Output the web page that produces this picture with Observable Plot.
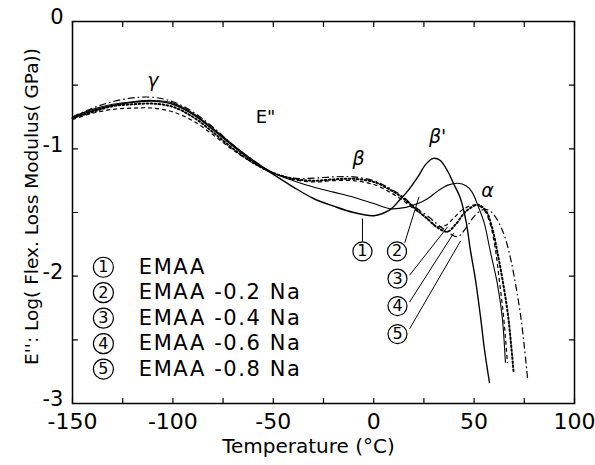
<!DOCTYPE html>
<html><head><meta charset="utf-8">
<script src="https://cdn.jsdelivr.net/npm/d3@7"></script>
<script src="https://cdn.jsdelivr.net/npm/@observablehq/plot@0.6"></script>
<style>
body{margin:0;background:#fff}
.legend-text text{letter-spacing:1.6px}
</style>
</head><body><div id="chart"></div>
<script>
// ---- data ----
const seriesNames = ["EMAA","EMAA -0.2 Na","EMAA -0.4 Na","EMAA -0.6 Na","EMAA -0.8 Na"];
const seriesIds = ["1","2","3","4","5"];

const t1 = [-150,-140,-130,-120,-110,-100,-90,-80,-70,-60,-50,-40,-30,-20,-10,0,8,13,17,22,26,29.8,33,37,40,43,46,48.2,50.7,53.2,55.2,57.7];
const v1 = [-0.76,-0.70,-0.66,-0.635,-0.625,-0.65,-0.73,-0.85,-0.98,-1.10,-1.20,-1.30,-1.39,-1.45,-1.50,-1.525,-1.48,-1.40,-1.33,-1.22,-1.12,-1.075,-1.09,-1.18,-1.28,-1.38,-1.57,-1.80,-2.03,-2.32,-2.58,-2.84];

const t2 = [-150,-140,-130,-120,-110,-100,-90,-80,-70,-60,-50,-40,-30,-20,-10,0,8,16,22,27,32,37,42,46,49,52,55,58,61.6,64,65.6];
const v2 = [-0.75,-0.69,-0.65,-0.63,-0.62,-0.64,-0.72,-0.84,-0.97,-1.09,-1.19,-1.25,-1.30,-1.34,-1.38,-1.43,-1.47,-1.46,-1.43,-1.39,-1.33,-1.285,-1.27,-1.29,-1.34,-1.45,-1.58,-1.80,-2.06,-2.32,-2.68];

const t3 = [-150,-140,-130,-120,-110,-100,-90,-80,-70,-60,-50,-40,-30,-20,-10,0,8,14,20,26,31.8,36,40,45,51,55,58,60.7,62.7,64.7,66.6];
const v3 = [-0.77,-0.72,-0.69,-0.68,-0.68,-0.71,-0.78,-0.89,-1.01,-1.11,-1.19,-1.24,-1.26,-1.25,-1.25,-1.28,-1.34,-1.40,-1.47,-1.54,-1.61,-1.60,-1.54,-1.47,-1.44,-1.48,-1.59,-1.80,-2.05,-2.32,-2.68];

const t4 = [-150,-140,-130,-120,-110,-100,-90,-80,-70,-60,-50,-40,-30,-20,-10,0,8,14,20,26,32,36.7,41,46,52,56,59,61.7,64.5,67,69.7];
const v4 = [-0.76,-0.71,-0.665,-0.65,-0.645,-0.67,-0.75,-0.87,-1.0,-1.11,-1.19,-1.235,-1.25,-1.24,-1.235,-1.26,-1.32,-1.38,-1.46,-1.54,-1.62,-1.65,-1.59,-1.49,-1.44,-1.49,-1.62,-1.82,-2.06,-2.32,-2.76];

const t5 = [-150,-140,-130,-120,-110,-100,-90,-80,-70,-60,-50,-40,-30,-20,-10,0,8,14,20,27,34,41.7,46,50,54,57,60,64.6,68,70.5,73,75,76.6];
const v5 = [-0.75,-0.68,-0.63,-0.60,-0.595,-0.63,-0.71,-0.83,-0.97,-1.09,-1.19,-1.23,-1.23,-1.22,-1.22,-1.25,-1.31,-1.37,-1.45,-1.53,-1.62,-1.69,-1.62,-1.53,-1.48,-1.48,-1.52,-1.66,-1.85,-2.05,-2.29,-2.55,-2.80];

const temps = [t1,t2,t3,t4,t5];
const values = [v1,v2,v3,v4,v5];

const xTicksMajor = [-150,-100,-50,0,50,100];
const xTicksAll = [-150,-125,-100,-75,-50,-25,0,25,50,75,100];
const yTicksMajor = [0,-1,-2,-3];
const yTicksAll = [0,-0.5,-1,-1.5,-2,-2.5,-3];

// legend block (left)
const legendX = -134.6, legendTextX = -117;
const legendY = [-1.93,-2.13,-2.33,-2.53,-2.73];

// callout circles and their arrows
const calloutX = [-5.6, 11.6, 11.85, 11.85, 11.85];
const calloutY = [-1.805, -1.805, -2.02, -2.235, -2.455];
const arrowX1 = [-5.6, 15.5, 18.0, 18.0, 18.0];
const arrowY1 = [-1.725, -1.735, -1.99, -2.20, -2.41];
const arrowX2 = [-5.6, 22.5, 36.7, 39.7, 43.2];
const arrowY2 = [-1.55, -1.38, -1.615, -1.665, -1.725];

// peak labels
const peakLabels = ["γ", "β", "β'", "α"];
const peakX = [-110, -7.6, 31.8, 56.7];
const peakY = [-0.47, -1.08, -0.91, -1.33];
const eLabel = 'E"', eX = -53.9, eY = -0.754;

// ---- build tables ----
const lineData = [];
seriesIds.forEach((id, k) => temps[k].forEach((t, i) => lineData.push({id, t, v: values[k][i]})));
const legendRows = seriesIds.map((id, k) => ({id, name: seriesNames[k], y: legendY[k]}));
const calloutRows = seriesIds.map((id, k) => ({id, x: calloutX[k], y: calloutY[k], x1: arrowX1[k], y1: arrowY1[k], x2: arrowX2[k], y2: arrowY2[k]}));
const peakRows = peakLabels.map((s, k) => ({s, x: peakX[k], y: peakY[k]}));

const dashes = {"1": null, "2": null, "3": "4,3", "4": "1.6,2.4", "5": "7,3,1.6,3"};
const widths = {"1": 1.4, "2": 1.1, "3": 1.2, "4": 2.0, "5": 1.2};

// straight tick shape for vector marks (inward ticks)
const tickShape = {draw(ctx, l) { ctx.moveTo(0, 0); ctx.lineTo(0, -l); }};
const tickOpts = {length: 5, anchor: "start", shape: tickShape, stroke: "black", strokeWidth: 1.2};

const font = "DejaVu Sans, Liberation Sans, sans-serif";

const chart = Plot.plot({
  width: 595, height: 465,
  marginLeft: 72, marginRight: 21, marginTop: 21, marginBottom: 62,
  style: {fontFamily: font, background: "white", color: "black"},
  x: {domain: [-150, 100], label: null},
  y: {domain: [-3, 0], label: null},
  marks: [
    // tick labels
    Plot.axisX(xTicksMajor, {anchor: "bottom", tickSize: 0, tickPadding: 10, tickFormat: d => String(d), fontSize: 22, label: null}),
    Plot.axisY(yTicksMajor, {anchor: "left", tickSize: 0, tickPadding: 9, dy: -4, tickFormat: d => String(d), fontSize: 21, label: null}),
    // inward ticks on all four sides
    Plot.vector(xTicksAll, {x: d => d, frameAnchor: "bottom", rotate: 0, ...tickOpts}),
    Plot.vector(xTicksAll, {x: d => d, frameAnchor: "top", rotate: 180, ...tickOpts}),
    Plot.vector(yTicksAll, {y: d => d, frameAnchor: "left", rotate: 90, ...tickOpts}),
    Plot.vector(yTicksAll, {y: d => d, frameAnchor: "right", rotate: -90, ...tickOpts}),
    Plot.frame({stroke: "black", strokeWidth: 1.5}),
    // curves
    ...seriesIds.map(id => Plot.line(lineData.filter(d => d.id === id), {
      x: "t", y: "v", curve: "catmull-rom", stroke: "black",
      strokeWidth: widths[id], strokeDasharray: dashes[id], strokeLinecap: id === "4" ? "round" : "butt"
    })),
    // callouts
    Plot.arrow(calloutRows, {x1: "x1", y1: "y1", x2: "x2", y2: "y2", stroke: "black", strokeWidth: 1, headLength: 8, bend: d => d.id === "1" ? 0 : 6}),
    Plot.dot(calloutRows, {x: "x", y: "y", r: 9.5, stroke: "black", fill: "white", strokeWidth: 1.2}),
    Plot.text(calloutRows, {x: "x", y: "y", text: "id", fontSize: 16, fill: "black"}),
    // legend
    Plot.dot(legendRows, {x: legendX, y: "y", r: 10, stroke: "black", fill: "white", strokeWidth: 1.2}),
    Plot.text(legendRows, {x: legendX, y: "y", text: "id", fontSize: 16, fill: "black"}),
    Plot.text(legendRows, {x: legendTextX, y: "y", text: "name", textAnchor: "start", fontSize: 21, fill: "black", className: "legend-text"}),
    // peak labels
    Plot.text(peakRows, {x: "x", y: "y", text: "s", fontSize: 19, fill: "black", fontStyle: "italic"}),
    Plot.text([eLabel], {x: eX, y: eY, fontSize: 18, fill: "black"}),
    // axis titles
    Plot.text(["Temperature (°C)"], {frameAnchor: "bottom", dy: 49, dx: -15, fontSize: 20, fill: "black"}),
    Plot.text(["E'': Log( Flex. Loss Modulus( GPa))"], {frameAnchor: "left", textAnchor: "middle", dx: -40, dy: -6, rotate: -90, fontSize: 18.5, fill: "black"})
  ]
});
document.getElementById("chart").appendChild(chart);
</script>
</body></html>
